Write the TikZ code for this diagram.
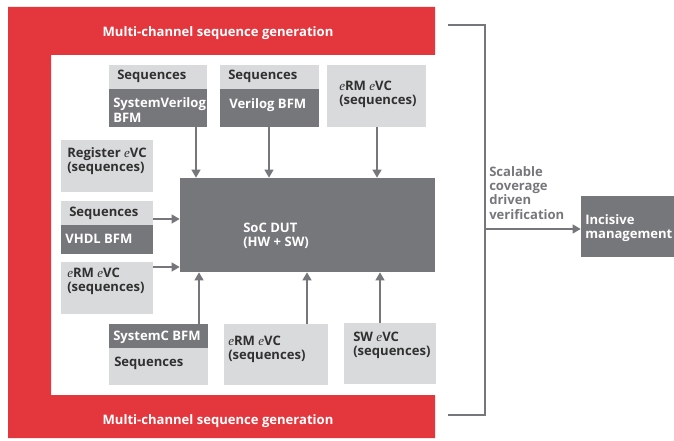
\documentclass[tikz,border=0pt]{standalone}
\usepackage{fontspec}
\setmainfont{Open Sans}
\newfontfamily\efont{Liberation Serif}
\usetikzlibrary{fit,arrows.meta}
\definecolor{cadred}{HTML}{E3363D}
\definecolor{darkbox}{HTML}{76777B}
\definecolor{lightbox}{HTML}{D9DADC}
\definecolor{boxtext}{HTML}{303030}
\newcommand{\ev}{{\efont\mdseries\itshape e}}
\tikzset{
  lbox/.style={fill=lightbox, inner sep=0pt, draw=none},
  dbox/.style={fill=darkbox, inner sep=0pt, draw=none},
  ltxt/.style={anchor=west, inner sep=0pt, align=left, text=boxtext, font=\bfseries\fontsize{9.8}{10.6}\selectfont},
  dtxt/.style={anchor=west, inner sep=0pt, align=left, text=white, font=\bfseries\fontsize{9.8}{10.6}\selectfont},
  gtxt/.style={anchor=west, inner sep=0pt, align=left, text=darkbox, font=\bfseries\fontsize{9.8}{10.6}\selectfont},
  arr/.style={draw=darkbox, line width=1.9pt, -{Triangle[width=6.5pt,length=6pt]}},
  brk/.style={draw=darkbox, line width=1.5pt}
}
\begin{document}
\begin{tikzpicture}[x=0.75pt,y=-0.75pt]
\useasboundingbox (0,0) rectangle (674,441);
% C-shaped red frame
\fill[cadred] (8,7) -- (435,7) -- (435,55) -- (51,55) -- (51,395) -- (435,395) -- (435,438) -- (8,438) -- cycle;
\node[dtxt, anchor=center] (topband) at (218,33) {Multi-channel sequence generation};
\node[dtxt, anchor=center] (botband) at (218,421) {Multi-channel sequence generation};

% SoC DUT
\node[dbox, fit={(180,178) (435,272)}] (dut) {};
\node[dtxt] (duttxt) at (243,236) {SoC DUT\\(HW + SW)};

% Top row
\node[lbox, fit={(109,65) (207,89)}] (svseq) {};
\node[dbox, fit={(109,89) (207,127)}] (svbfm) {};
\node[ltxt] (svseqtxt) at (117,76) {Sequences};
\node[dtxt] (svbfmtxt) at (113,110) {SystemVerilog\\BFM};

\node[lbox, fit={(220,65) (319,89)}] (vseq) {};
\node[dbox, fit={(220,89) (319,127)}] (vbfm) {};
\node[ltxt] (vseqtxt) at (228,76) {Sequences};
\node[dtxt] (vbfmtxt) at (229,105) {Verilog BFM};

\node[lbox, fit={(327,65) (426,127)}] (ermtop) {};
\node[ltxt] (ermtoptxt) at (339,94) {\ev RM \ev VC\\(sequences)};

% Left column
\node[lbox, fit={(61,140) (153,192)}] (reg) {};
\node[ltxt] (regtxt) at (67,161) {Register \ev VC\\(sequences)};

\node[lbox, fit={(61,201) (153,225)}] (vhseq) {};
\node[dbox, fit={(61,225) (153,254)}] (vhbfm) {};
\node[ltxt] (vhseqtxt) at (69,213) {Sequences};
\node[dtxt] (vhbfmtxt) at (65,239) {VHDL BFM};

\node[lbox, fit={(61,262) (153,314)}] (ermleft) {};
\node[ltxt] (ermlefttxt) at (67,281) {\ev RM \ev VC\\(sequences)};

% Bottom row
\node[dbox, fit={(109,324) (208,348)}] (scbfm) {};
\node[lbox, fit={(109,348) (208,385)}] (scseq) {};
\node[dtxt] (scbfmtxt) at (113,337) {SystemC BFM};
\node[ltxt] (scseqtxt) at (114,363) {Sequences};

\node[lbox, fit={(224,324) (328,385)}] (ermbot) {};
\node[ltxt] (ermbottxt) at (228,349) {\ev RM \ev VC\\(sequences)};

\node[lbox, fit={(344,323) (436,384)}] (sw) {};
\node[ltxt] (swtxt) at (353,345) {SW \ev VC\\(sequences)};

% Arrow columns
\coordinate (ca) at (196,0);
\coordinate (cb) at (269,0);
\coordinate (cc) at (377,0);
\coordinate (cd) at (199,0);
\coordinate (ce) at (307,0);
\coordinate (cf) at (380,0);
\coordinate (ra) at (0,219);
\coordinate (rb) at (0,267);

\draw[arr] (ca |- svbfm.south) -- (ca |- dut.north);
\draw[arr] (cb |- vbfm.south) -- (cb |- dut.north);
\draw[arr] (cc |- ermtop.south) -- (cc |- dut.north);
\draw[arr] (vhseq.east |- ra) -- (dut.west |- ra);
\draw[arr] (ermleft.east |- rb) -- (dut.west |- rb);
\draw[arr] (cd |- scbfm.north) -- (cd |- dut.south);
\draw[arr] (ce |- ermbot.north) -- (ce |- dut.south);
\draw[arr] (cf |- sw.north) -- (cf |- dut.south);

% Bracket and management
\coordinate (bt) at (448,25);
\coordinate (bb) at (448,415);
\coordinate (bj) at (485,229);
\draw[brk] (bt) -- (485,25) -- (485,415) -- (bb);
\node[dbox, fit={(581,196) (674,257)}] (mgmt) {};
\node[dtxt] (mgmttxt) at (585,228) {Incisive\\management};
\node[gtxt] (scal) at (489,193) {Scalable\\coverage\\driven\\verification};
\draw[arr] (bj) -- (mgmt.west |- bj);
\end{tikzpicture}
\end{document}
